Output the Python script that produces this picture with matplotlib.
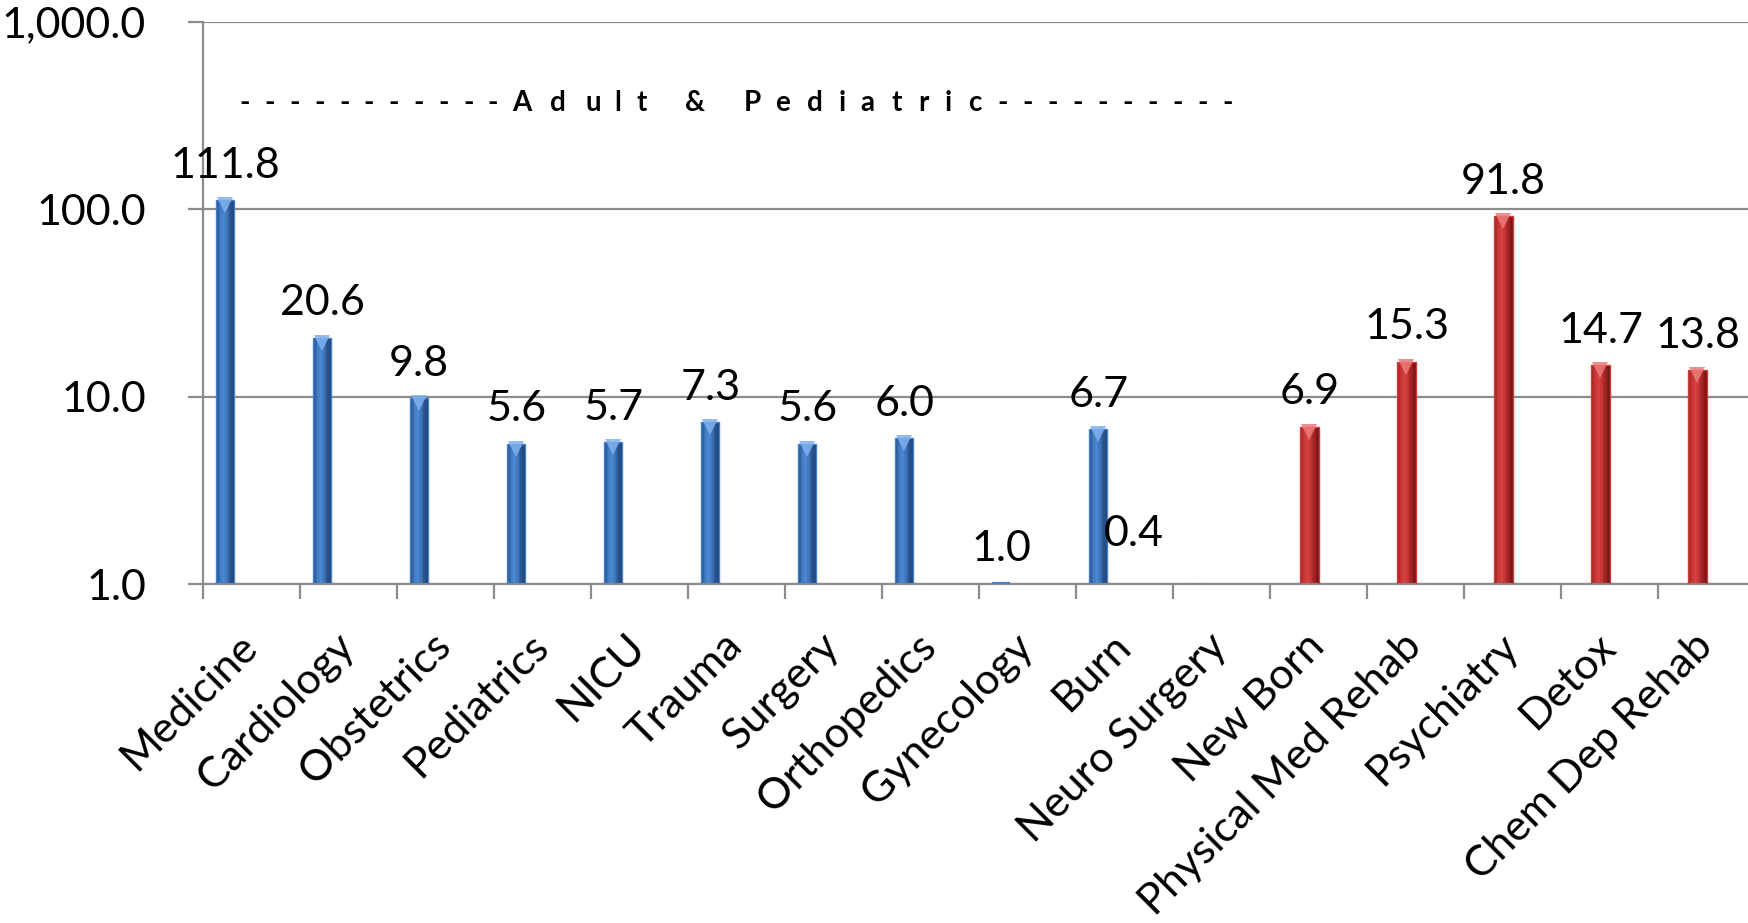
import numpy as np
import matplotlib
matplotlib.use("Agg")
import matplotlib.pyplot as plt
from matplotlib.colors import LinearSegmentedColormap
from matplotlib.ticker import FixedLocator, FuncFormatter
from matplotlib.transforms import ScaledTranslation

plt.rcParams['font.family'] = ['Lato', 'DejaVu Sans']

# Average length of stay by service line (days)
adult_peds = ["Medicine", "Cardiology", "Obstetrics", "Pediatrics", "NICU", "Trauma",
              "Surgery", "Orthopedics", "Gynecology", "Burn", "Neuro Surgery"]
adult_peds_vals = [111.8, 20.6, 9.8, 5.6, 5.7, 7.3, 5.6, 6.0, 1.0, 6.7, 0.4]

other = ["New Born", "Physical Med Rehab", "Psychiatry", "Detox", "Chem Dep Rehab"]
other_vals = [6.9, 15.3, 91.8, 14.7, 13.8]

categories = adult_peds + other
y_ticks = [1, 10, 100, 1000]

W, H = 1748, 923
fig = plt.figure(figsize=(W / 100, H / 100), dpi=100)
ax = fig.add_axes([203 / W, 1 - 584 / H, 1552 / W, 562 / H])
ax.set_yscale('log')
ax.set_ylim(1, 1000)
ax.set_xlim(-0.5, len(categories) - 0.5)

grid_col = '#8c8c8c'
for t in y_ticks:
    ax.axhline(t, color=grid_col, lw=1.6, zorder=0)

blue_cmap = LinearSegmentedColormap.from_list(
    'b', ['#2b5894', '#3f78c0', '#4d8ad6', '#3d73b8', '#2a5590', '#1f4478'])
red_cmap = LinearSegmentedColormap.from_list(
    'r', ['#a82828', '#c83636', '#d84444', '#c23232', '#9c2222', '#7c1616'])

bar_w = 0.186
n_strips = 14
bevel_shift = ScaledTranslation(0, -5 / 100, fig.dpi_scale_trans)


def draw_bars(xs, vals, cmap, bevel_col):
    for x, v in zip(xs, vals):
        sw = bar_w / n_strips
        for k in range(n_strips):
            xc = x - bar_w / 2 + sw * (k + 0.5)
            ax.bar(xc, v - 1, bottom=1, width=sw * 1.02, color=cmap(k / (n_strips - 1)),
                   linewidth=0, zorder=2)
        # outline; thicker for near-zero columns so they stay visible
        lw = 3.0 if abs(v - 1) < 0.1 else 1.0
        ax.bar(x, v - 1, bottom=1, width=bar_w, facecolor='none',
               edgecolor=cmap(0.3), linewidth=lw, zorder=3)
        # light bevel at the top of the column
        if v > 1.2:
            ax.plot([x], [v], marker='v', markersize=12, color=bevel_col,
                    markeredgewidth=0, zorder=4, alpha=0.85,
                    transform=ax.transData + bevel_shift)


blue_x = np.arange(len(adult_peds)) - 0.27
red_x = np.arange(len(adult_peds), len(categories)) - 0.093
draw_bars(blue_x, adult_peds_vals, blue_cmap, '#7fb0ec')
draw_bars(red_x, other_vals, red_cmap, '#ec7a7a')

label_size = 31
all_x = list(blue_x) + list(red_x)
all_v = adult_peds_vals + other_vals
for x, v in zip(all_x, all_v):
    dx, dy = 0, 25
    if v < 1:
        dx, dy = -44, 36
    ax.annotate(f"{v:.1f}", (x, max(v, 1)), xytext=(dx, dy), textcoords='offset points',
                ha='center', va='center', fontsize=label_size, color='black',
                annotation_clip=False, zorder=5)

# axes styling
for s in ['top', 'right']:
    ax.spines[s].set_visible(False)
ax.spines['left'].set_color(grid_col)
ax.spines['left'].set_linewidth(1.6)
ax.spines['bottom'].set_color(grid_col)
ax.spines['bottom'].set_linewidth(1.6)

ax.yaxis.set_major_locator(FixedLocator(y_ticks))
ax.yaxis.set_minor_locator(FixedLocator([]))
ax.yaxis.set_major_formatter(FuncFormatter(lambda v, p: f"{v:,.1f}"))
ax.tick_params(axis='y', which='major', length=11, width=1.6, color=grid_col,
               pad=30, labelsize=label_size)

ax.xaxis.set_major_locator(FixedLocator(np.arange(-0.5, len(categories), 1.0)))
ax.xaxis.set_major_formatter(FuncFormatter(lambda v, p: ""))
ax.xaxis.set_minor_locator(FixedLocator(np.arange(len(categories))))
ax.set_xticklabels(categories, minor=True, rotation=45, ha='right',
                   rotation_mode='anchor', fontsize=label_size)
ax.tick_params(axis='x', which='major', length=11, width=1.6, color=grid_col)
ax.tick_params(axis='x', which='minor', length=0, pad=22)
label_shift = ScaledTranslation(-0.14, -0.12, fig.dpi_scale_trans)
for lab in ax.get_xticklabels(minor=True):
    lab.set_transform(lab.get_transform() + label_shift)

# section header across the adult & pediatric service lines, letter-spaced
header_y = 1 - 103 / H
hdr_kw = dict(ha='center', va='center', fontsize=20, fontweight='bold', color='black')
left_dashes = [245 + 24.8 * i for i in range(11)]
right_dashes = [1003 + 25.0 * i for i in range(10)]
letters = list("Adult&Pediatric")
letter_x = [522, 558, 593, 618, 642, 695, 752, 783, 815, 842, 867, 897, 923, 948, 975]
for px in left_dashes + right_dashes:
    fig.text(px / W, header_y, "-", **hdr_kw)
for ch, px in zip(letters, letter_x):
    fig.text(px / W, header_y, ch, **hdr_kw)

fig.savefig("out.png", dpi=100, facecolor='white')
